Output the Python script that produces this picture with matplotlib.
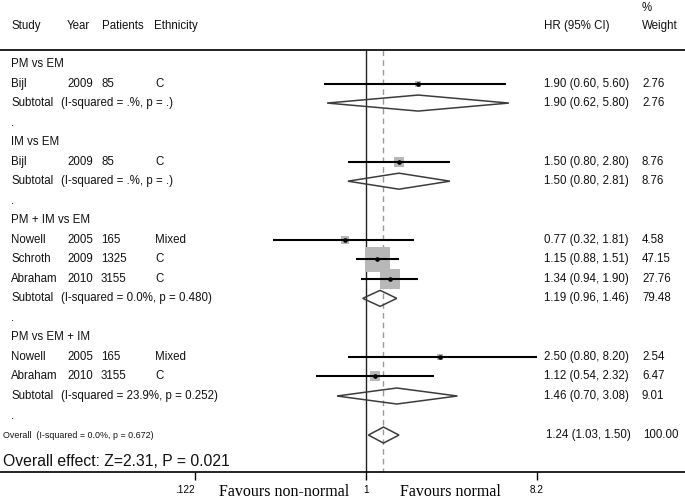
import numpy as np
import matplotlib
matplotlib.use("Agg")
import matplotlib.pyplot as plt
from matplotlib.transforms import blended_transform_factory, IdentityTransform, ScaledTranslation
from matplotlib.patches import Polygon

plt.rcParams['font.family'] = ['Liberation Sans', 'DejaVu Sans']

# study level data
study = ["Bijl", "Bijl", "Nowell", "Schroth", "Abraham", "Nowell", "Abraham"]
year = [2009, 2009, 2005, 2009, 2010, 2005, 2010]
patients = [85, 85, 165, 1325, 3155, 165, 3155]
ethnicity = ["C", "C", "Mixed", "C", "C", "Mixed", "C"]
hr = [1.90, 1.50, 0.77, 1.15, 1.34, 2.50, 1.12]
lo = [0.60, 0.80, 0.32, 0.88, 0.94, 0.80, 0.54]
hi = [5.60, 2.80, 1.81, 1.51, 1.90, 8.20, 2.32]
weight = [2.76, 8.76, 4.58, 47.15, 27.76, 2.54, 6.47]
group_of = [0, 1, 2, 2, 2, 3, 3]

# subgroups
groups = ["PM vs EM", "IM vs EM", "PM + IM vs EM", "PM vs EM + IM"]
sub_hr = [1.90, 1.50, 1.19, 1.46]
sub_lo = [0.62, 0.80, 0.96, 0.70]
sub_hi = [5.80, 2.81, 1.46, 3.08]
sub_w = [2.76, 8.76, 79.48, 9.01]
sub_het = ["I-squared = .%, p = .", "I-squared = .%, p = .",
           "I-squared = 0.0%, p = 0.480", "I-squared = 23.9%, p = 0.252"]

# overall
ov_hr, ov_lo, ov_hi, ov_w = 1.24, 1.03, 1.50, 100.00
ov_het = "I-squared = 0.0%, p = 0.672"
ov_z, ov_p = 2.31, 0.021

xticks = [0.122, 1, 8.2]
xticklabels = [".122", "1", "8.2"]

W, H = 685, 503
fig = plt.figure(figsize=(W / 100, H / 100), dpi=100)
ax = fig.add_axes([0, 0, 1, 1])
ax.set_xscale("log")
# pixel mapping: x=1 at 366px, 81.27 px per ln unit
c, k = 366.0, 81.27
ax.set_xlim(np.exp(-c / k), np.exp((W - c) / k))
r0, dr = 64.0, 19.53
ax.set_ylim((H - r0) / dr, -r0 / dr)

def row(py):
    return (py - r0) / dr

tx = blended_transform_factory(ax.transAxes, ax.transData)
def px(x):
    return x / W

fs = 8.3
txt_kw = dict(transform=tx, va="center", ha="left", fontsize=fs, color="#111111")

# header
ax.text(px(11), row(26), "Study", **txt_kw)
ax.text(px(67), row(26), "Year", **txt_kw)
ax.text(px(102), row(26), "Patients", **txt_kw)
ax.text(px(154), row(26), "Ethnicity", **txt_kw)
ax.text(px(544), row(26), "HR (95% CI)", **txt_kw)
ax.text(px(642), row(8), "%", **txt_kw)
ax.text(px(642), row(26), "Weight", **txt_kw)
ax.axhline(row(50), color="#111111", lw=1.3)

# rows
r = 0
for g, gname in enumerate(groups):
    ax.text(px(11), r, gname, **txt_kw)
    r += 1
    for i in range(len(study)):
        if group_of[i] != g:
            continue
        ax.text(px(11), r, study[i], **txt_kw)
        ax.text(px(67), r, str(year[i]), **txt_kw)
        ax.text(px(101), r, str(patients[i]), **txt_kw)
        ax.text(px(155), r, ethnicity[i], **txt_kw)
        ax.text(px(544), r, f"{hr[i]:.2f} ({lo[i]:.2f}, {hi[i]:.2f})", **txt_kw)
        ax.text(px(642), r, f"{weight[i]:.2f}", **txt_kw)
        side = 25 * np.sqrt(weight[i] / 47.15) * 0.72
        ax.scatter(hr[i], r, marker="s", s=side ** 2, color="#b8b8b8", lw=0, zorder=2)
        ax.hlines(r, lo[i], hi[i], color="black", lw=1.5, zorder=3)
        ax.scatter(hr[i], r, marker="o", s=11, color="black", lw=0, zorder=4)
        r += 1
    ax.text(px(11), r, "Subtotal", **txt_kw)
    ax.text(px(61), r, f"({sub_het[g]})", **txt_kw)
    ax.text(px(544), r, f"{sub_hr[g]:.2f} ({sub_lo[g]:.2f}, {sub_hi[g]:.2f})", **txt_kw)
    ax.text(px(642), r, f"{sub_w[g]:.2f}", **txt_kw)
    ax.add_patch(Polygon([[sub_lo[g], r], [sub_hr[g], r - 0.41], [sub_hi[g], r],
                          [sub_hr[g], r + 0.41]], closed=True, fill=False,
                         edgecolor="#3c3c3c", lw=1.1, zorder=3))
    r += 1
    ax.text(px(11), r, ".", **txt_kw)
    r += 1

# overall
ax.text(px(3), r, f"Overall  ({ov_het})", transform=tx, va="center", ha="left",
        fontsize=6.4, color="#111111")
ax.text(px(546), r, f"{ov_hr:.2f} ({ov_lo:.2f}, {ov_hi:.2f})", **txt_kw)
ax.text(px(643), r, f"{ov_w:.2f}", **txt_kw)
ax.add_patch(Polygon([[ov_lo, r], [ov_hr, r - 0.41], [ov_hi, r], [ov_hr, r + 0.41]],
                     closed=True, fill=False, edgecolor="#3c3c3c", lw=1.1, zorder=3))
ax.text(px(3), row(461), f"Overall effect: Z={ov_z:.2f}, P = {ov_p:.3f}", transform=tx,
        va="center", ha="left", fontsize=11.3, color="#111111")

# reference lines
ax.vlines(1, row(50), row(472), color="#222222", lw=1.0, zorder=1)
ax.vlines(ov_hr, row(50), row(472), color="#9a9a9a", lw=1.0, linestyles=(0, (4, 3)), zorder=1)

# bottom axis
for s in ["left", "right", "top"]:
    ax.spines[s].set_visible(False)
ax.spines["bottom"].set_position(("data", row(472)))
ax.spines["bottom"].set_linewidth(1.2)
ax.set_xticks(xticks)
ax.set_xticklabels(xticklabels)
ax.xaxis.set_minor_locator(matplotlib.ticker.NullLocator())
ax.tick_params(axis="x", direction="out", length=6, width=1.0, pad=3.5, labelsize=7.2)
ax.set_yticks([])
# .122 label sits left of its tick
lab0 = ax.get_xticklabels()[0]
lab0.set_transform(lab0.get_transform() + ScaledTranslation(-10 / 100, 0, fig.dpi_scale_trans))

pix_y = blended_transform_factory(IdentityTransform(), ax.transData)
ax.text(284, row(492), "Favours non-normal", ha="center", va="center", fontsize=11.5,
        family="Liberation Serif", transform=pix_y)
ax.text(450, row(492), "Favours normal", ha="center", va="center", fontsize=11.5,
        family="Liberation Serif", transform=pix_y)

fig.savefig("out.png", dpi=100)
